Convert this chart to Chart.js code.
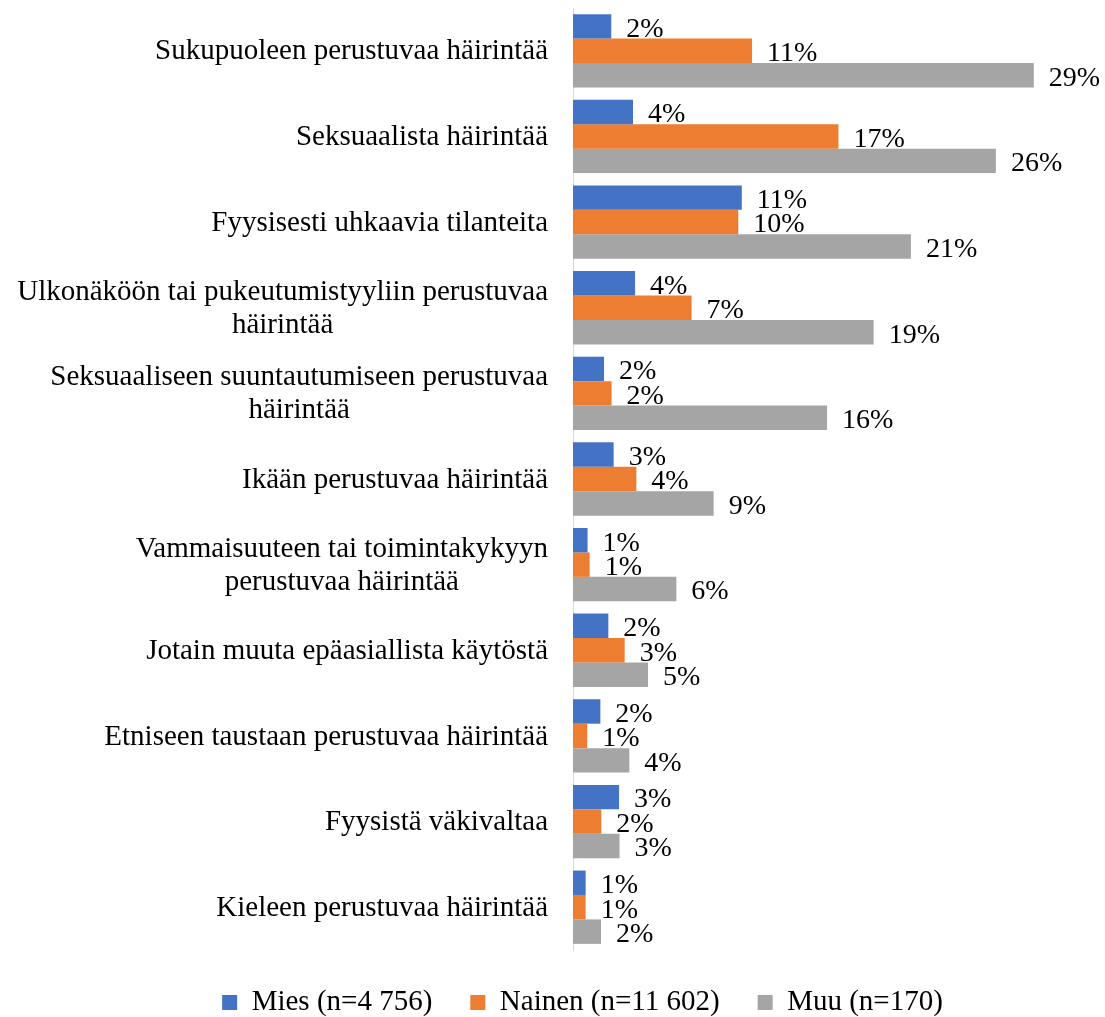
<!DOCTYPE html>
<html>
<head>
<meta charset="utf-8">
<script src="https://cdn.jsdelivr.net/npm/chart.js@4.4.1/dist/chart.umd.min.js"></script>
<style>
  html, body { margin: 0; padding: 0; background: #fff; overflow: hidden; }
  #wrap { position: relative; width: 1105px; height: 1027px; }
</style>
</head>
<body>
<div id="wrap"><canvas id="chart-area"></canvas></div>
<script>
// categories, top to bottom
var categories = [
  'Sukupuoleen perustuvaa häirintää',
  'Seksuaalista häirintää',
  'Fyysisesti uhkaavia tilanteita',
  ['Ulkonäköön tai pukeutumistyyliin perustuvaa', 'häirintää'],
  ['Seksuaaliseen suuntautumiseen perustuvaa', 'häirintää'],
  'Ikään perustuvaa häirintää',
  ['Vammaisuuteen tai toimintakykyyn', 'perustuvaa häirintää'],
  'Jotain muuta epäasiallista käytöstä',
  'Etniseen taustaan perustuvaa häirintää',
  'Fyysistä väkivaltaa',
  'Kieleen perustuvaa häirintää'
];
// shares in %
var mies   = [2.39, 3.75, 10.55, 3.88, 1.94, 2.54, 0.91, 2.21, 1.71, 2.88, 0.79];
var nainen = [11.19, 16.59, 10.33, 7.41, 2.41, 3.96, 1.04, 3.23, 0.89, 1.77, 0.79];
var muu    = [28.80, 26.43, 21.12, 18.79, 15.88, 8.79, 6.46, 4.69, 3.52, 2.91, 1.75];
var seriesNames = ['Mies (n=4 756)', 'Nainen (n=11 602)', 'Muu (n=170)'];

var serif = '"Liberation Serif", "Times New Roman", serif';

// value labels at the end of each bar
var barLabels = {
  id: 'barLabels',
  afterDatasetsDraw: function(chart) {
    var ctx = chart.ctx;
    ctx.save();
    ctx.font = '28px ' + serif;
    ctx.fillStyle = '#000';
    ctx.textAlign = 'left';
    ctx.textBaseline = 'middle';
    chart.data.datasets.forEach(function(ds, i) {
      chart.getDatasetMeta(i).data.forEach(function(bar, j) {
        ctx.fillText(Math.round(ds.data[j]) + '%', bar.x + 15, bar.y + 3);
      });
    });
    ctx.restore();
  }
};

// category labels: block right aligned to the axis, lines centred inside it
var catLabels = {
  id: 'catLabels',
  afterDraw: function(chart) {
    var ctx = chart.ctx;
    var yScale = chart.scales.y;
    var right = chart.chartArea.left - 25;
    ctx.save();
    ctx.font = '29px ' + serif;
    ctx.fillStyle = '#000';
    ctx.textBaseline = 'middle';
    ctx.textAlign = 'center';
    chart.data.labels.forEach(function(lab, i) {
      var lines = Array.isArray(lab) ? lab : [lab];
      var w = 0;
      lines.forEach(function(l) { w = Math.max(w, ctx.measureText(l).width); });
      var cx = right - w / 2;
      var y0 = yScale.getPixelForTick(i) + 1 - (lines.length - 1) * 33 / 2;
      lines.forEach(function(l, k) {
        ctx.fillText(l, cx, y0 + k * 33);
      });
    });
    ctx.restore();
  }
};

var config = {
  type: 'bar',
  data: {
    labels: categories,
    datasets: [
      { label: seriesNames[0], data: mies, backgroundColor: '#4472C4' },
      { label: seriesNames[1], data: nainen, backgroundColor: '#ED7D31' },
      { label: seriesNames[2], data: muu, backgroundColor: '#A5A5A5' }
    ]
  },
  options: {
    indexAxis: 'y',
    responsive: true,
    maintainAspectRatio: false,
    animation: false,
    datasets: {
      bar: { barPercentage: 1, categoryPercentage: 0.856 }
    },
    layout: {
      padding: { left: 80, right: 20, top: 8, bottom: 0 }
    },
    scales: {
      x: { display: false, min: 0, max: 32 },
      y: {
        grid: { display: false },
        border: { display: true, color: '#d9d9d9', width: 1 },
        ticks: { display: false },
        afterFit: function(scale) { scale.width = 493; }
      }
    },
    plugins: {
      tooltip: { enabled: false },
      legend: {
        position: 'bottom',
        labels: {
          boxWidth: 15,
          boxHeight: 15,
          padding: 38,
          color: '#000',
          font: { family: serif, size: 29 }
        }
      }
    }
  },
  plugins: [barLabels, catLabels]
};

var ctx2 = document.getElementById('chart-area').getContext('2d');
window.myBar = new Chart(ctx2, config);
</script>
</body>
</html>
